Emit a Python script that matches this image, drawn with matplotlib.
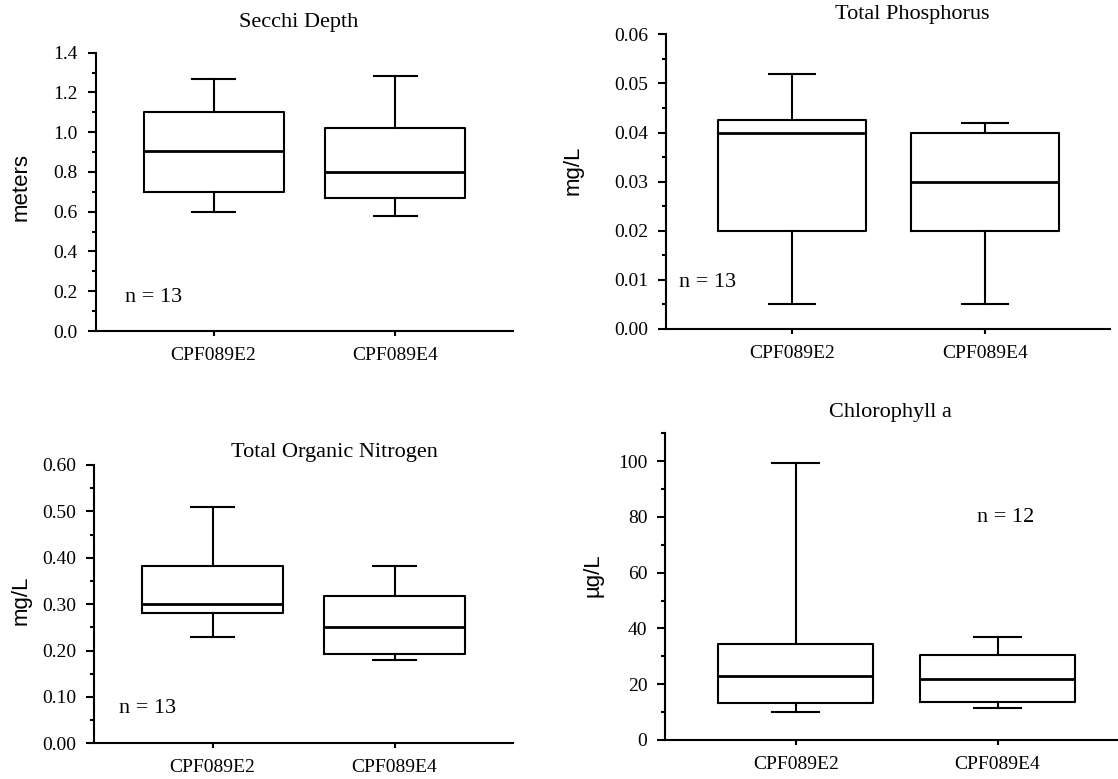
import matplotlib
matplotlib.use("Agg")
import matplotlib.pyplot as plt
from matplotlib.ticker import MultipleLocator, FormatStrFormatter

plt.rcParams['font.family'] = ['Liberation Serif', 'DejaVu Serif']

sites = ["CPF089E2", "CPF089E4"]

# Secchi depth (meters)
secchi_min = [0.60, 0.58]
secchi_q1 = [0.70, 0.67]
secchi_med = [0.905, 0.80]
secchi_q3 = [1.10, 1.02]
secchi_max = [1.27, 1.285]

# Total phosphorus (mg/L)
tp_min = [0.005, 0.005]
tp_q1 = [0.020, 0.020]
tp_med = [0.040, 0.030]
tp_q3 = [0.0425, 0.040]
tp_max = [0.052, 0.042]

# Total organic nitrogen (mg/L)
ton_min = [0.23, 0.18]
ton_q1 = [0.28, 0.192]
ton_med = [0.30, 0.25]
ton_q3 = [0.383, 0.317]
ton_max = [0.509, 0.383]

# Chlorophyll a (ug/L)
chla_min = [9.9, 11.3]
chla_q1 = [13.1, 13.7]
chla_med = [23.0, 22.0]
chla_q3 = [34.6, 30.6]
chla_max = [99.2, 36.8]

W, H = 1118, 779
fig = plt.figure(figsize=(W / 100, H / 100), dpi=100)


def make_stats(lo, q1, med, q3, hi):
    return [dict(whislo=lo[i], q1=q1[i], med=med[i], q3=q3[i], whishi=hi[i], label=sites[i])
            for i in range(len(sites))]


def panel(px, title, title_xy, ylabel, ylabel_xy, stats, ylim, major, minor, fmt,
          ntext, nxy, xlim):
    # px = (left, top, right, bottom) in pixels
    l, t, r, b = px
    ax = fig.add_axes([l / W, 1 - b / H, (r - l) / W, (b - t) / H])
    lw = 1.5
    ax.bxp(stats, positions=[1, 2], widths=0.77, capwidths=0.235, showfliers=False,
           boxprops=dict(color='black', linewidth=lw),
           whiskerprops=dict(color='black', linewidth=lw),
           capprops=dict(color='black', linewidth=lw),
           medianprops=dict(color='black', linewidth=2.0))
    ax.set_xlim(*xlim)
    ax.set_ylim(*ylim)
    ax.yaxis.set_major_locator(MultipleLocator(major))
    ax.yaxis.set_minor_locator(MultipleLocator(minor))
    ax.yaxis.set_major_formatter(FormatStrFormatter(fmt))
    ax.set_xticks([1, 2])
    ax.set_xticklabels(sites)
    for s in ['top', 'right']:
        ax.spines[s].set_visible(False)
    for s in ['left', 'bottom']:
        ax.spines[s].set_linewidth(1.5)
    ax.tick_params(axis='y', which='major', length=6, width=1.5, labelsize=14, pad=7)
    ax.tick_params(axis='y', which='minor', length=3, width=1.5)
    ax.tick_params(axis='x', which='major', length=3.5, width=1.5, labelsize=14, pad=8)
    ax.text(nxy[0], nxy[1], ntext, fontsize=16, ha='left', va='center')
    fig.text(title_xy[0] / W, 1 - title_xy[1] / H, title, fontsize=16,
             ha='center', va='center')
    fig.text(ylabel_xy[0] / W, 1 - ylabel_xy[1] / H, ylabel, fontsize=16,
             family='Liberation Sans', rotation=90, ha='center', va='center')
    return ax


panel((95.7, 52.7, 513.2, 331), "Secchi Depth", (299, 22), "meters", (21, 187),
      make_stats(secchi_min, secchi_q1, secchi_med, secchi_q3, secchi_max),
      (0, 1.4), 0.2, 0.1, '%.1f', "n = 13", (0.513, 0.171), (0.351, 2.648))

panel((666, 34.3, 1110, 329), "Total Phosphorus", (912, 15), "mg/L", (573, 170),
      make_stats(tp_min, tp_q1, tp_med, tp_q3, tp_max),
      (0, 0.06), 0.01, 0.005, '%.2f', "n = 13", (0.415, 0.0094), (0.347, 2.648))

panel((94, 465, 512.5, 743.3), "Total Organic Nitrogen", (334, 453), "mg/L", (21, 600),
      make_stats(ton_min, ton_q1, ton_med, ton_q3, ton_max),
      (0, 0.6), 0.1, 0.05, '%.2f', "n = 13", (0.486, 0.0755), (0.349, 2.648))

panel((665.4, 433.3, 1118, 740), "Chlorophyll a", (890, 413), "\u00b5g/L", (593, 575),
      make_stats(chla_min, chla_q1, chla_med, chla_q3, chla_max),
      (0, 110), 20, 10, '%d', "n = 12", (1.898, 79.8), (0.354, 2.597))

fig.savefig("out.png", dpi=100)
